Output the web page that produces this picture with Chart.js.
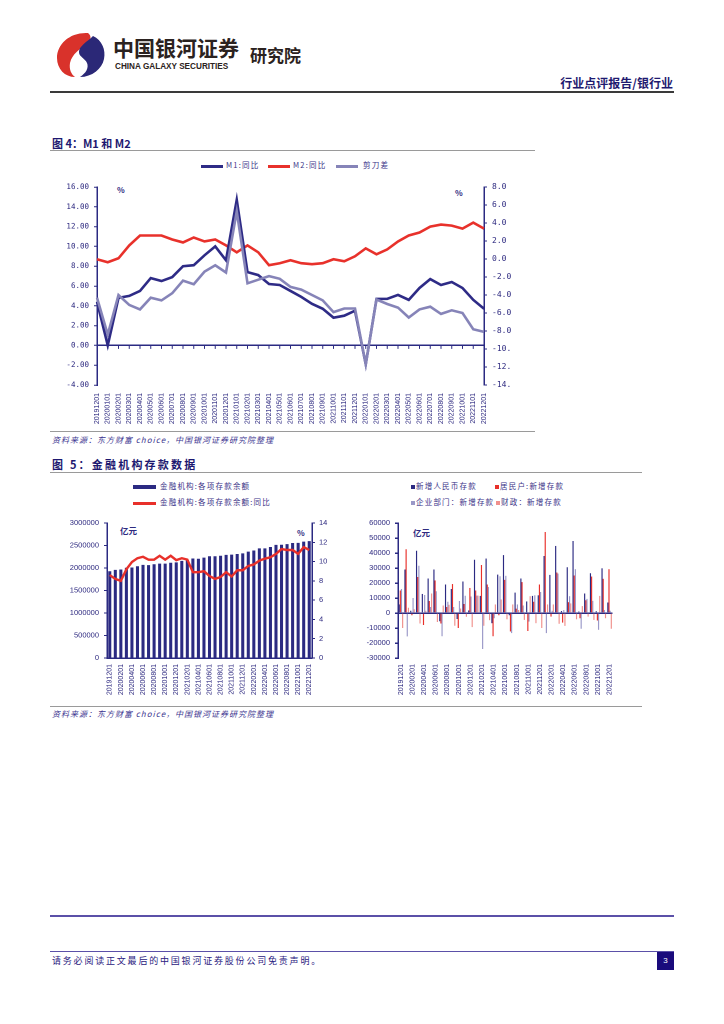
<!DOCTYPE html>
<html><head><meta charset="utf-8">
<script src="https://cdn.jsdelivr.net/npm/chart.js@4.4.1/dist/chart.umd.min.js"></script>
<style>
body{margin:0;background:#fff;}
#page{position:relative;width:724px;height:1024px;overflow:hidden;font-family:"Noto Sans CJK SC","Noto Sans",sans-serif;background:#fff;}
.a{position:absolute;white-space:nowrap;line-height:1;}
.lg{font-size:7.5px;letter-spacing:1.2px;color:#3b3488;}
.src{font-size:8px;letter-spacing:1px;color:#3d3590;font-style:italic;}
.sw{position:absolute;}
</style></head><body><div id="page">

<svg class="a" style="left:56px;top:32px" width="50" height="46" viewBox="0 0 50 46">
 <path d="M32 1 C14 0 1 12 1 26 C1 37 9 45 19 45 C15 42 13 37 14 31 C16 22 24 17 31 12 C35 9 36 4 32 1 Z" fill="#D9322B"/>
 <path d="M37 4 C46 8 50 18 48 27 C46 37 36 45 24 45 C30 41 33 36 31 31 C29 26 23 25 23 20 C23 14 31 10 37 4 Z" fill="#2B2877"/>
</svg>
<div class="a" style="left:113px;top:37px;font-size:21px;font-weight:700;color:#2b2220;">中国银河证券</div>
<div class="a" style="left:115px;top:63px;font-size:8.2px;font-weight:700;color:#2b2220;font-family:'Liberation Sans',sans-serif;">CHINA GALAXY SECURITIES</div>
<div class="a" style="left:250px;top:46px;font-size:17px;font-weight:700;color:#2b2220;">研究院</div>
<div class="a" style="right:51px;top:77px;font-size:12px;font-weight:700;color:#1f1a70;">行业点评报告/银行业</div>
<div class="a" style="left:50px;top:91px;width:624px;border-top:2px solid #3a3a3a;"></div>

<div class="a" style="left:52px;top:138px;font-size:11px;font-weight:700;color:#1d1870;">图 4：M1 和 M2</div>
<div class="a" style="left:50px;top:150px;width:485px;border-top:1.5px solid #9a9a9a;"></div>

<div class="sw" style="left:201px;top:164.5px;width:22px;height:3px;background:#2E2B86"></div>
<div class="a lg" style="left:226px;top:161px;">M1:同比</div>
<div class="sw" style="left:268px;top:164.5px;width:22px;height:3px;background:#E8312B"></div>
<div class="a lg" style="left:293px;top:161px;">M2:同比</div>
<div class="sw" style="left:336px;top:164.5px;width:22px;height:3px;background:#8684B8"></div>
<div class="a lg" style="left:363px;top:161px;">剪刀差</div>
<div class="a" style="left:117px;top:186px;font-size:8px;font-weight:700;color:#2E2A80;">%</div>
<div class="a" style="left:455px;top:189px;font-size:8px;font-weight:700;color:#2E2A80;">%</div>

<div class="a" style="left:45px;top:177px;width:466px;height:256px;overflow:hidden;">
 <canvas id="c1" width="479" height="256" style="width:479px;height:256px;"></canvas>
</div>

<div class="a" style="left:50px;top:431px;width:485px;border-top:1.5px solid #9a9a9a;"></div>
<div class="a src" style="left:52px;top:436px;">资料来源：东方财富 choice，中国银河证券研究院整理</div>

<div class="a" style="left:52px;top:459px;font-size:11px;font-weight:700;letter-spacing:2.2px;color:#1d1870;">图 5：金融机构存款数据</div>
<div class="a" style="left:50px;top:472px;width:592px;border-top:1.5px solid #9a9a9a;"></div>

<div class="sw" style="left:133px;top:484.5px;width:23px;height:4.5px;background:#2B2A82"></div>
<div class="a lg" style="left:160px;top:482px;">金融机构:各项存款余额</div>
<div class="sw" style="left:133px;top:501.5px;width:23px;height:3px;background:#E8302A"></div>
<div class="a lg" style="left:160px;top:498px;">金融机构:各项存款余额:同比</div>
<div class="a" style="left:120px;top:526px;font-size:8.5px;font-weight:700;color:#2E2A80;">亿元</div>
<div class="a" style="left:297px;top:529px;font-size:8px;font-weight:700;color:#2E2A80;">%</div>

<div class="sw" style="left:411px;top:485px;width:4px;height:4px;background:#2B2A82"></div>
<div class="a lg" style="left:416px;top:482px;">新增人民币存款</div>
<div class="sw" style="left:495px;top:485px;width:4px;height:4px;background:#E8302A"></div>
<div class="a lg" style="left:500px;top:482px;">居民户:新增存款</div>
<div class="sw" style="left:411px;top:501px;width:4px;height:4px;background:#9A98C8"></div>
<div class="a lg" style="left:416px;top:498px;">企业部门：新增存款</div>
<div class="sw" style="left:496px;top:501px;width:4px;height:4px;background:#F0908C"></div>
<div class="a lg" style="left:501px;top:498px;">财政：新增存款</div>
<div class="a" style="left:413px;top:528px;font-size:8.5px;font-weight:700;color:#2E2A80;">亿元</div>

<div class="a" style="left:45px;top:513px;width:289px;height:187px;">
 <canvas id="c2" width="289" height="187" style="width:289px;height:187px;"></canvas>
</div>
<div class="a" style="left:348px;top:513px;width:276px;height:187px;">
 <canvas id="c3" width="276" height="187" style="width:276px;height:187px;"></canvas>
</div>

<div class="a" style="left:50px;top:706px;width:592px;border-top:1.5px solid #9a9a9a;"></div>
<div class="a src" style="left:52px;top:710px;">资料来源：东方财富 choice，中国银河证券研究院整理</div>

<div class="a" style="left:50px;top:915px;width:624px;border-top:2px solid #5b50a8;"></div>
<div class="a" style="left:50px;top:951px;width:624px;border-top:1.5px solid #5b50a8;"></div>
<div class="a" style="left:52px;top:956px;font-size:9px;letter-spacing:1.8px;color:#2a2080;">请务必阅读正文最后的中国银河证券股份公司免责声明。</div>
<div class="a" style="left:657px;top:952px;width:17px;height:18px;background:#1a0b7c;color:#fff;font-size:8px;text-align:center;line-height:18px;font-family:'Liberation Sans',sans-serif;">3</div>

</div>
<script>
// ---------- data ----------
const months = ['20191201','20200101','20200201','20200301','20200401','20200501','20200601','20200701','20200801','20200901','20201001','20201101','20201201','20210101','20210201','20210301','20210401','20210501','20210601','20210701','20210801','20210901','20211001','20211101','20211201','20220101','20220201','20220301','20220401','20220501','20220601','20220701','20220801','20220901','20221001','20221101','20221201'];

const m1Yoy = [4.4,0.0,4.8,5.0,5.5,6.8,6.5,6.9,8.0,8.1,9.1,10.0,8.6,14.7,7.4,7.1,6.2,6.1,5.5,4.9,4.2,3.7,2.8,3.0,3.5,-1.9,4.7,4.7,5.1,4.6,5.8,6.7,6.1,6.4,5.8,4.6,3.7];
const m2Yoy = [8.7,8.4,8.8,10.1,11.1,11.1,11.1,10.7,10.4,10.9,10.5,10.7,10.1,9.4,10.1,9.4,8.1,8.3,8.6,8.3,8.2,8.3,8.7,8.5,9.0,9.8,9.2,9.7,10.5,11.1,11.4,12.0,12.2,12.1,11.8,12.4,11.8];
const scissorGap = [-4.3,-8.4,-4.0,-5.1,-5.6,-4.3,-4.6,-3.8,-2.4,-2.8,-1.4,-0.7,-1.5,5.3,-2.7,-2.3,-1.9,-2.2,-3.1,-3.4,-4.0,-4.6,-5.9,-5.5,-5.5,-11.7,-4.5,-5.0,-5.4,-6.5,-5.6,-5.3,-6.1,-5.7,-6.0,-7.8,-8.1];

const depositBalance = [1928800,1958000,1966000,2006000,2012000,2040000,2070000,2063000,2082000,2097000,2096000,2116000,2126000,2158000,2178000,2210000,2205000,2230000,2262000,2260000,2272000,2293000,2298000,2312000,2325000,2364000,2390000,2436000,2437000,2468000,2515000,2516000,2530000,2556000,2557000,2585000,2598000];
const depositYoy = [8.6,8.2,8.0,9.2,9.95,10.35,10.5,10.2,10.2,10.6,10.2,10.6,10.15,10.35,10.2,8.9,8.9,9.0,8.5,8.2,8.4,8.9,8.45,9.1,9.1,9.55,9.7,10.1,10.3,10.45,10.8,11.3,11.2,11.2,10.8,11.5,11.2];

const newRmbDeposit = [5700,29000,1500,41500,12700,23000,29000,-5500,19000,16000,-4000,21000,1700,35500,11400,36300,-6800,25600,38600,-1500,13600,23000,7700,11400,11800,38000,25400,44700,1300,30500,48000,1000,13000,26500,1200,29800,7000];
const newHousehold = [15000,42500,-1500,24000,-8000,8000,21700,-7000,4000,19300,-10000,6000,16700,15000,32000,19000,-15500,-1500,22100,-12300,2900,20600,-12000,7500,19000,54000,-2400,27000,-6400,7200,25000,-3500,8500,24300,-5000,22800,29200];
const newCorporate = [16000,-15600,10000,31500,12000,4000,14500,-15500,7500,4000,8000,11500,11000,11600,-24000,17300,-3500,24500,24800,-13400,5700,5000,-5700,11800,14000,-13400,1500,26300,2000,11200,29200,-10500,9400,8100,-11200,2000,1500];
const newFiscal = [-10000,3500,2500,-7000,1500,13000,-6000,5000,5500,-8500,3000,-2500,-9400,11600,-8500,-4800,5700,9000,-4200,5700,2000,-4600,11200,-6800,-10000,5700,5700,-7200,-8600,6400,-4200,4600,-2400,-4600,11400,-3500,-10500];

// ---------- style ----------
const AX = '#2B2A82';
const TXT = '#2E2A80';
const clear = 'rgba(0,0,0,0)';

const zeroTicks = {
  id:'zeroTicks',
  beforeDatasetsDraw(chart){
    const xs = chart.scales.x, ys = chart.scales.y;
    const y0 = ys.getPixelForValue(0);
    const c = chart.ctx;
    c.save(); c.strokeStyle = AX; c.lineWidth = 1;
    for (let i = 0; i < xs.ticks.length; i++){
      const x = xs.getPixelForTick(i);
      c.beginPath(); c.moveTo(x, y0); c.lineTo(x, y0 + 3.5); c.stroke();
    }
    c.restore();
  }
};

const xLabelFont = {family:'Liberation Sans', size:7};

// ---------- Figure 4 ----------
new Chart(document.getElementById('c1'), {
  type:'line',
  data:{labels:months, datasets:[
    {label:'M1:同比', data:m1Yoy, borderColor:'#2E2B86', borderWidth:2.6, pointRadius:0, yAxisID:'y', order:1, tension:0},
    {label:'M2:同比', data:m2Yoy, borderColor:'#E8312B', borderWidth:2.6, pointRadius:0, yAxisID:'y', order:2, tension:0},
    {label:'剪刀差', data:scissorGap, borderColor:'#8684B8', borderWidth:2.6, pointRadius:0, yAxisID:'y1', order:0, tension:0}
  ]},
  options:{
    responsive:false, animation:false, devicePixelRatio:2,
    layout:{padding:{top:10,left:0,right:0,bottom:0}},
    plugins:{legend:{display:false}, tooltip:{enabled:false}},
    scales:{
      x:{offset:false, grid:{display:false, drawTicks:false}, border:{display:false},
         ticks:{autoSkip:false, maxRotation:90, minRotation:90, font:xLabelFont, color:TXT, padding:8},
         afterFit(s){ s.height = 48; }},
      y:{position:'left', min:-4, max:16,
         ticks:{stepSize:2, callback:v=>Number(v).toFixed(2), font:{family:'DejaVu Sans Mono', size:7.5}, color:TXT, padding:5},
         grid:{drawOnChartArea:true, color:c=>(c.tick && c.tick.value===0)?AX:clear, lineWidth:1.5, tickLength:3, tickColor:AX, tickWidth:1},
         border:{display:true, color:AX, width:1.5},
         afterFit(s){ s.width = 52; }},
      y1:{position:'right', min:-14, max:8,
         ticks:{stepSize:2, callback:v=>Number(v).toFixed(1), font:{family:'DejaVu Sans Mono', size:8}, color:TXT, padding:5},
         grid:{drawOnChartArea:false, tickLength:3, tickColor:AX},
         border:{display:true, color:AX, width:1.5},
         afterFit(s){ s.width = 40; }}
    }
  },
  plugins:[zeroTicks]
});

// ---------- Figure 5 left ----------
new Chart(document.getElementById('c2'), {
  type:'bar',
  data:{labels:months, datasets:[
    {type:'line', label:'金融机构:各项存款余额:同比', data:depositYoy, borderColor:'#E8302A', borderWidth:2.4, pointRadius:0, yAxisID:'y1', order:0, tension:0},
    {type:'bar', label:'金融机构:各项存款余额', data:depositBalance, backgroundColor:'#2B2A82', yAxisID:'y', barPercentage:0.55, categoryPercentage:1, order:1}
  ]},
  options:{
    responsive:false, animation:false, devicePixelRatio:2,
    layout:{padding:{top:10,left:0,right:0,bottom:0}},
    plugins:{legend:{display:false}, tooltip:{enabled:false}},
    scales:{
      x:{grid:{display:false, drawTicks:false}, border:{display:true, color:AX, width:1.5},
         ticks:{autoSkip:false, maxRotation:90, minRotation:90, font:xLabelFont, color:TXT, padding:6,
                callback:(v,i)=> i%2===0 ? months[i] : ''},
         afterFit(s){ s.height = 42; }},
      y:{position:'left', min:0, max:3000000,
         ticks:{stepSize:500000, font:{family:'Liberation Sans', size:7.5}, color:TXT, padding:5, callback:v=>String(v)},
         grid:{drawOnChartArea:false, tickLength:3, tickColor:AX},
         border:{display:true, color:AX, width:1.5},
         afterFit(s){ s.width = 62; }},
      y1:{position:'right', min:0, max:14,
         ticks:{stepSize:2, font:{family:'Liberation Sans', size:7.5}, color:TXT, padding:4},
         grid:{drawOnChartArea:false, tickLength:3, tickColor:AX},
         border:{display:true, color:AX, width:1.5},
         afterFit(s){ s.width = 22; }}
    }
  }
});

// ---------- Figure 5 right ----------
new Chart(document.getElementById('c3'), {
  type:'bar',
  data:{labels:months, datasets:[
    {label:'新增人民币存款', data:newRmbDeposit, backgroundColor:'#2B2A82'},
    {label:'居民户:新增存款', data:newHousehold, backgroundColor:'#E8302A'},
    {label:'企业部门：新增存款', data:newCorporate, backgroundColor:'#9A98C8'},
    {label:'财政：新增存款', data:newFiscal, backgroundColor:'#F0908C'}
  ]},
  options:{
    responsive:false, animation:false, devicePixelRatio:2,
    datasets:{bar:{barPercentage:1, categoryPercentage:0.8}},
    layout:{padding:{top:10,left:0,right:2,bottom:0}},
    plugins:{legend:{display:false}, tooltip:{enabled:false}},
    scales:{
      x:{grid:{display:false, drawTicks:false}, border:{display:false},
         ticks:{autoSkip:false, maxRotation:90, minRotation:90, font:xLabelFont, color:TXT, padding:6,
                callback:(v,i)=> i%2===0 ? months[i] : ''},
         afterFit(s){ s.height = 42; }},
      y:{position:'left', min:-30000, max:60000,
         ticks:{stepSize:10000, font:{family:'Liberation Sans', size:7.5}, color:TXT, padding:5, callback:v=>String(v)},
         grid:{drawOnChartArea:true, color:c=>(c.tick && c.tick.value===0)?AX:clear, lineWidth:1.5, tickLength:3, tickColor:AX},
         border:{display:true, color:AX, width:1.5},
         afterFit(s){ s.width = 50; }}
    }
  }
});
</script>
</body></html>
